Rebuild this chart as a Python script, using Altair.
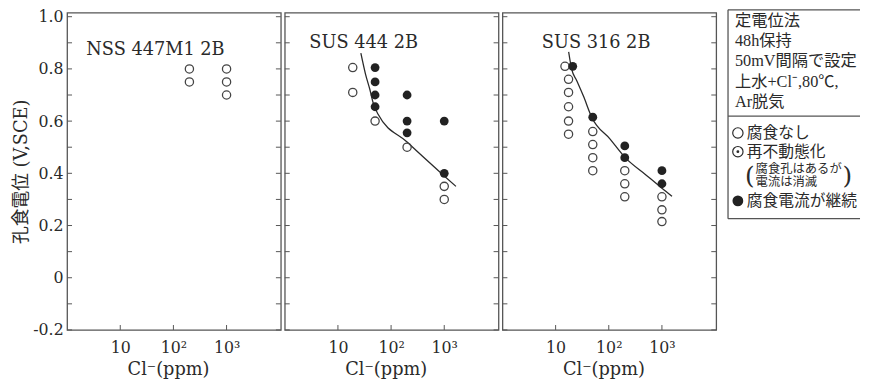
import altair as alt
import pandas as pd

# ---------------- data ----------------
panel_names = ["NSS 447M1 2B", "SUS 444 2B", "SUS 316 2B"]

nss_open_x = [200, 200, 1000, 1000, 1000]
nss_open_y = [0.80, 0.75, 0.80, 0.75, 0.70]

s444_open_x = [19, 19, 50, 200, 1000, 1000]
s444_open_y = [0.805, 0.71, 0.60, 0.50, 0.35, 0.30]
s444_fill_x = [50, 50, 50, 50, 200, 200, 200, 1000, 1000]
s444_fill_y = [0.805, 0.75, 0.70, 0.655, 0.70, 0.60, 0.555, 0.60, 0.40]
s444_curve_x = [27, 33, 40, 46, 57, 200, 1000, 1660]
s444_curve_y = [0.86, 0.78, 0.72, 0.67, 0.626, 0.52, 0.39, 0.35]

s316_open_x = [15, 17.5, 17.5, 17.5, 17.5, 17.5, 50, 50, 50, 50, 200, 200, 200, 1000, 1000, 1000]
s316_open_y = [0.81, 0.76, 0.71, 0.655, 0.60, 0.55, 0.56, 0.51, 0.46, 0.41, 0.41, 0.36, 0.31, 0.31, 0.26, 0.215]
s316_fill_x = [21, 50, 200, 200, 1000, 1000]
s316_fill_y = [0.81, 0.615, 0.505, 0.46, 0.41, 0.36]
s316_curve_x = [17.6, 20, 25, 33.5, 48, 105, 204, 500, 1000, 1550]
s316_curve_y = [0.865, 0.80, 0.755, 0.695, 0.614, 0.532, 0.46, 0.394, 0.343, 0.312]

y_tick_values = [-0.2, -0.1, 0.0, 0.1, 0.2, 0.3, 0.4, 0.5, 0.6, 0.7, 0.8, 0.9, 1.0]
y_label_values = [-0.2, 0.0, 0.2, 0.4, 0.6, 0.8, 1.0]
y_label_texts = ["-0.2", "0", "0.2", "0.4", "0.6", "0.8", "1.0"]
x_tick_values = [10, 100, 1000]
x_tick_texts = ["10", "10²", "10³"]

x_title = "Cl⁻(ppm)"
y_title = "孔食電位 (V,SCE)"

legend_header = ["定電位法", "48h保持", "50mV間隔で設定", "上水+Cl⁻,80℃,", "Ar脱気"]
legend_items = ["腐食なし", "再不動態化", "腐食電流が継続"]
legend_note = ["腐食孔はあるが", "電流は消滅"]

# ---------------- layout / style ----------------
FONT = "DejaVu Serif, Noto Sans CJK JP"
LFONT = "Liberation Serif, Noto Sans CJK JP"
INK = "#2a2a2a"
LINE = "#555555"
W, H = 217, 322
TICK = 5
X_DOMAIN = [1, 10500]
Y_DOMAIN = [-0.2, 1.015]

title_pos_x = [2.3, 2.9, 5.5]
title_pos_y = [0.872, 0.898, 0.90]


def lookup_expr(values, texts, tol):
    s = "''"
    for v, t in reversed(list(zip(values, texts))):
        s = f"abs(datum.value - ({v})) < {tol} ? '{t}' : {s}"
    return s


y_expr = lookup_expr(y_label_values, y_label_texts, 0.01)
x_expr = lookup_expr(x_tick_values, x_tick_texts, 0.5)


def make_panel(i, open_x, open_y, fill_x=None, fill_y=None, curve_x=None, curve_y=None):
    first = i == 0
    xs = alt.Scale(type="log", domain=X_DOMAIN, nice=False)
    ys = alt.Scale(domain=Y_DOMAIN, nice=False, zero=False)
    x_axis = alt.Axis(values=x_tick_values, labelExpr=x_expr, ticks=False, domain=False,
                      grid=False, title=x_title, labelPadding=10, titlePadding=5,
                      titleX=W / 2 - 6)
    if first:
        y_axis = alt.Axis(values=y_tick_values, labelExpr=y_expr, ticks=False, domain=False,
                          grid=False, labelPadding=4, title=y_title, titlePadding=2)
    else:
        y_axis = alt.Axis(values=y_tick_values, labels=False, ticks=False, domain=False,
                          grid=False, title=None)
    # every layer of a panel uses exactly the same encodings, so the axes merge cleanly
    X = alt.X("x:Q", scale=xs, axis=x_axis)
    Y = alt.Y("y:Q", scale=ys, axis=y_axis)

    layers = []
    # inward tick marks (left, right, bottom)
    ydf = pd.DataFrame({"y": y_tick_values})
    xdf = pd.DataFrame({"x": x_tick_values})
    layers.append(alt.Chart(ydf).mark_rule(color=LINE, strokeWidth=1).encode(
        y=Y, x=alt.value(0), x2=alt.value(TICK)))
    layers.append(alt.Chart(ydf).mark_rule(color=LINE, strokeWidth=1).encode(
        y=Y, x=alt.value(W - TICK), x2=alt.value(W)))
    layers.append(alt.Chart(xdf).mark_rule(color=LINE, strokeWidth=1).encode(
        x=X, y=alt.value(H - TICK), y2=alt.value(H)))

    if curve_x is not None:
        cdf = pd.DataFrame({"x": curve_x, "y": curve_y})
        layers.append(
            alt.Chart(cdf).mark_line(color=INK, strokeWidth=1.3, interpolate="monotone").encode(
                x=X, y=Y))
    odf = pd.DataFrame({"x": open_x, "y": open_y})
    layers.append(
        alt.Chart(odf).mark_point(shape="circle", filled=False, size=70, strokeWidth=1.3,
                                  color="#444444", opacity=1).encode(x=X, y=Y))
    if fill_x is not None:
        fdf = pd.DataFrame({"x": fill_x, "y": fill_y})
        layers.append(
            alt.Chart(fdf).mark_circle(size=80, color="#222222", opacity=1).encode(x=X, y=Y))
    tdf = pd.DataFrame({"x": [title_pos_x[i]], "y": [title_pos_y[i]], "t": [panel_names[i]]})
    layers.append(
        alt.Chart(tdf).mark_text(align="left", baseline="middle", font=FONT, fontSize=18,
                                 color=INK).encode(x=X, y=Y, text="t:N"))
    return alt.layer(*layers).properties(width=W, height=H)


p1 = make_panel(0, nss_open_x, nss_open_y)
p2 = make_panel(1, s444_open_x, s444_open_y, s444_fill_x, s444_fill_y, s444_curve_x, s444_curve_y)
p3 = make_panel(2, s316_open_x, s316_open_y, s316_fill_x, s316_fill_y, s316_curve_x, s316_curve_y)

# ---------------- legend box ----------------
LW, LH = 134, 209
BOX_TOP = -3
lx = alt.Scale(domain=[0, LW], nice=False, zero=False)
ly = alt.Scale(domain=[0, LH], nice=False, zero=False, reverse=True)
hdr_y = [8.5, 29, 49.5, 70, 90.5]
item_y = [122, 141, 191]
note_y = [159, 172]

hrules = pd.DataFrame({"x": [0, 0, 0], "x2": [LW, LW, LW], "y": [BOX_TOP, 105, LH]})
vrule = pd.DataFrame({"x": [0], "y": [BOX_TOP], "y2": [LH]})
hdr = pd.DataFrame({"x": [7] * 5, "y": hdr_y, "t": legend_header})
items = pd.DataFrame({"x": [19] * 3, "y": item_y, "t": legend_items})
notes = pd.DataFrame({"x": [28, 28], "y": note_y, "t": legend_note})
parens = pd.DataFrame({"x": [22, 121], "y": [165.5, 165.5], "t": ["(", ")"]})
sym_open = pd.DataFrame({"x": [10, 10], "y": [item_y[0], item_y[1]]})
sym_dot = pd.DataFrame({"x": [10], "y": [item_y[1]]})
sym_fill = pd.DataFrame({"x": [10], "y": [item_y[2]]})

LX = alt.X("x:Q", scale=lx, axis=None)
LY = alt.Y("y:Q", scale=ly, axis=None)
legend = alt.layer(
    alt.Chart(hrules).mark_rule(color=LINE, strokeWidth=1.3).encode(x=LX, x2="x2:Q", y=LY),
    alt.Chart(vrule).mark_rule(color=LINE, strokeWidth=1.3).encode(x=LX, y=LY, y2="y2:Q"),
    alt.Chart(hdr).mark_text(align="left", baseline="middle", font=LFONT, fontSize=16.5,
                             color=INK).encode(x=LX, y=LY, text="t:N"),
    alt.Chart(items).mark_text(align="left", baseline="middle", font=LFONT, fontSize=16,
                               color=INK).encode(x=LX, y=LY, text="t:N"),
    alt.Chart(notes).mark_text(align="left", baseline="middle", font=LFONT, fontSize=12.5,
                               color=INK).encode(x=LX, y=LY, text="t:N"),
    alt.Chart(parens).mark_text(align="center", baseline="middle", font="DejaVu Serif",
                                fontSize=25, color=INK).encode(x=LX, y=LY, text="t:N"),
    alt.Chart(sym_open).mark_point(shape="circle", filled=False, size=110, strokeWidth=1.2,
                                   color=INK, opacity=1).encode(x=LX, y=LY),
    alt.Chart(sym_dot).mark_circle(size=8, color=INK, opacity=1).encode(x=LX, y=LY),
    alt.Chart(sym_fill).mark_circle(size=120, color="#222222", opacity=1).encode(x=LX, y=LY),
).properties(width=LW, height=LH, view=alt.ViewBackground(strokeOpacity=0))

panels = alt.hconcat(p1, p2, p3, spacing=0)
chart = (
    alt.hconcat(panels, legend, spacing=9)
    .properties(padding={"left": 4, "top": -3, "right": 0, "bottom": 0})
    .configure_view(stroke=LINE, strokeWidth=1.3)
    .configure_axis(labelFont="DejaVu Serif", labelFontSize=16, labelColor=INK,
                    titleFont=FONT, titleFontSize=18, titleFontWeight="normal",
                    titleColor=INK)
)

chart.save("out.html", embed_options={"renderer": "svg", "actions": False})
